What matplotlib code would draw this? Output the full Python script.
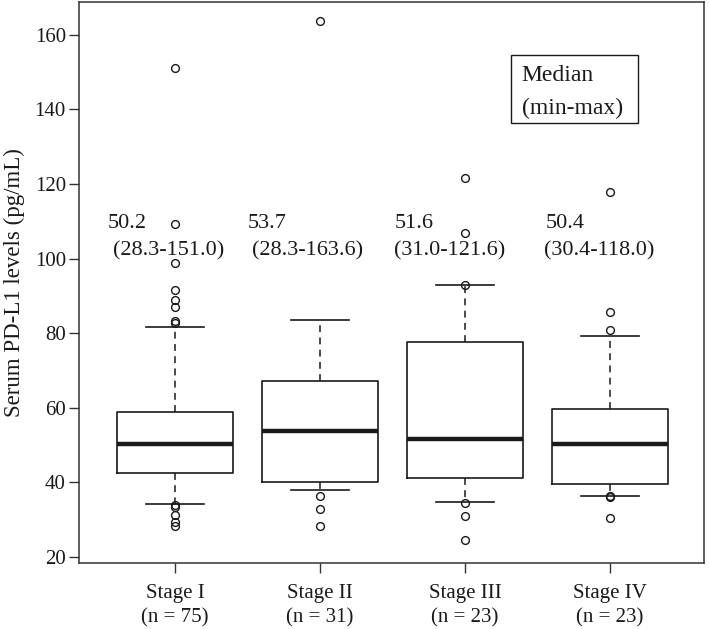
import matplotlib
matplotlib.use("Agg")
import matplotlib.pyplot as plt
from matplotlib.patches import Rectangle

plt.rcParams['font.family'] = ['Liberation Serif', 'DejaVu Serif']

# ---- data ----
stages = ["Stage I", "Stage II", "Stage III", "Stage IV"]
n_counts = [75, 31, 23, 23]
medians = [50.2, 53.7, 51.6, 50.4]
q1 = [42.5, 40.2, 41.3, 39.5]
q3 = [59.0, 67.2, 77.7, 59.8]
whisk_lo = [34.2, 38.0, 34.7, 36.5]
whisk_hi = [81.7, 83.5, 93.0, 79.2]
fliers = [
    [151.0, 109.4, 98.9, 91.7, 89.0, 87.1, 83.2, 82.7, 33.9, 33.5, 31.4, 29.3, 28.3],
    [163.6, 36.5, 33.0, 28.3],
    [121.6, 106.9, 93.0, 34.6, 30.9, 24.5],
    [118.0, 85.6, 81.0, 36.3, 36.0, 30.4],
]
min_vals = [28.3, 28.3, 31.0, 30.4]
max_vals = [151.0, 163.6, 121.6, 118.0]

ink = "#1a1a1a"

fig = plt.figure(figsize=(7.09, 6.29), dpi=100)
ax = fig.add_axes([79 / 709, 1 - 562.7 / 629, 625 / 709, 560.7 / 629])

stats = []
for i in range(len(stages)):
    stats.append({
        "med": medians[i], "q1": q1[i], "q3": q3[i],
        "whislo": whisk_lo[i], "whishi": whisk_hi[i],
        "fliers": fliers[i],
    })

positions = list(range(1, len(stages) + 1))
ax.bxp(stats, positions=positions, widths=0.8, capwidths=0.4,
       showfliers=True,
       boxprops=dict(color=ink, linewidth=1.2),
       medianprops=dict(color=ink, linewidth=3.2, solid_capstyle="butt"),
       whiskerprops=dict(color=ink, linewidth=1.1, linestyle=(0, (4.5, 3.5))),
       capprops=dict(color=ink, linewidth=1.2),
       flierprops=dict(marker="o", markersize=5.6, markerfacecolor="none",
                       markeredgecolor=ink, markeredgewidth=1.0))

ax.set_xlim(0.338, 4.648)
ax.set_ylim(18.5, 168.8)
ax.set_yticks([20, 40, 60, 80, 100, 120, 140, 160])
ax.set_xticks(positions)
ax.set_xticklabels([f"{s}\n(n = {n})" for s, n in zip(stages, n_counts)],
                   linespacing=1.35)
ax.tick_params(axis="both", direction="out", length=7.5, width=1.0,
               color="#333333", labelsize=15, labelcolor=ink)
ax.tick_params(axis="x", pad=8)
ax.tick_params(axis="y", pad=2)
for sp in ax.spines.values():
    sp.set_color("#333333")
    sp.set_linewidth(1.1)

ax.set_ylabel("Serum PD-L1 levels (pg/mL)", fontsize=16.5, color=ink, labelpad=7)

# median / range annotations above each box
first_dx = [-0.467, -0.501, -0.483, -0.446]
second_dx = [-0.430, -0.467, -0.488, -0.453]
for i, p in enumerate(positions):
    ax.text(p + first_dx[i], 109.3, f"{medians[i]:.1f}", fontsize=16,
            color=ink, ha="left", va="center")
    ax.text(p + second_dx[i], 102.2, f"({min_vals[i]:.1f}-{max_vals[i]:.1f})",
            fontsize=16, color=ink, ha="left", va="center")

# legend-like box
ax.add_patch(Rectangle((0.692, 0.7842), 0.203, 0.1213, transform=ax.transAxes,
                       fill=False, edgecolor=ink, linewidth=1.0))
ax.text(0.7085, 0.8686, "Median", transform=ax.transAxes, fontsize=17,
        color=ink, ha="left", va="center")
ax.text(0.7085, 0.8110, "(min-max)", transform=ax.transAxes, fontsize=17,
        color=ink, ha="left", va="center")

fig.savefig("out.png", dpi=100)
